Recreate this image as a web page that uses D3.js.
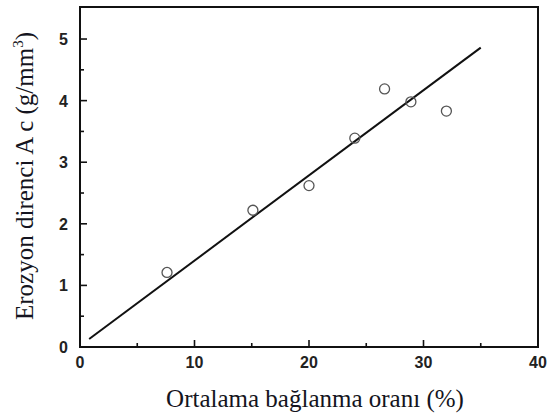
<!DOCTYPE html>
<html><head><meta charset="utf-8">
<script src="https://cdn.jsdelivr.net/npm/d3@7"></script>
<style>body{margin:0;background:#fff}svg{display:block}</style>
</head><body>
<svg id="c" width="547" height="414"></svg>
<script>
const pointX = [7.6, 15.1, 20.0, 24.0, 26.6, 28.9, 32.0];
const pointY = [1.21, 2.22, 2.62, 3.39, 4.19, 3.98, 3.83];
const fitX = [0.8, 35.0];
const fitY = [0.13, 4.86];
const xTicks = [0, 10, 20, 30, 40];
const yTicks = [0, 1, 2, 3, 4, 5];
const xTitle = "Ortalama bağlanma oranı (%)";
const yTitleMain = "Erozyon direnci A c (g/mm";
const yTitleSup = "3";
const yTitleEnd = ")";

const svg = d3.select("#c");
const L = 80, R = 538, T = 7, B = 347;
const x = d3.scaleLinear().domain([0, 40]).range([L, R]);
const y = d3.scaleLinear().domain([0, 5.52]).range([B, T]);
const ink = "#111";

svg.append("rect").attr("x", L).attr("y", T).attr("width", R - L).attr("height", B - T)
  .attr("fill", "none").attr("stroke", ink).attr("stroke-width", 2);

const xMinor = d3.range(5, 40, 10);
const yMinor = d3.range(0.5, 5.5, 1);
const tg = svg.append("g").attr("stroke", ink).attr("stroke-width", 1.6);
xTicks.forEach(v => tg.append("line").attr("x1", x(v)).attr("x2", x(v)).attr("y1", B).attr("y2", B - 7));
xMinor.forEach(v => tg.append("line").attr("x1", x(v)).attr("x2", x(v)).attr("y1", B).attr("y2", B - 4));
yTicks.forEach(v => tg.append("line").attr("x1", L).attr("x2", L + 7).attr("y1", y(v)).attr("y2", y(v)));
yMinor.forEach(v => tg.append("line").attr("x1", L).attr("x2", L + 4).attr("y1", y(v)).attr("y2", y(v)));

const lblFont = "'Liberation Sans', Arial, sans-serif";
svg.append("g").selectAll("text").data(xTicks).join("text")
  .attr("x", d => x(d)).attr("y", B + 21).attr("text-anchor", "middle")
  .attr("font-family", lblFont).attr("font-weight", "bold").attr("font-size", 16).attr("fill", "#222")
  .text(d => d);
svg.append("g").selectAll("text").data(yTicks).join("text")
  .attr("x", L - 12).attr("y", d => y(d) + 6).attr("text-anchor", "end")
  .attr("font-family", lblFont).attr("font-weight", "bold").attr("font-size", 16).attr("fill", "#222")
  .text(d => d);

const line = d3.line().x(d => x(d[0])).y(d => y(d[1]));
svg.append("path").datum(fitX.map((v, i) => [v, fitY[i]])).attr("d", line)
  .attr("fill", "none").attr("stroke", ink).attr("stroke-width", 2);

svg.append("g").selectAll("circle").data(pointX.map((v, i) => [v, pointY[i]])).join("circle")
  .attr("cx", d => x(d[0])).attr("cy", d => y(d[1])).attr("r", 5)
  .attr("fill", "none").attr("stroke", "#555").attr("stroke-width", 1.3);

const titleFont = "'Liberation Serif', 'Times New Roman', serif";
svg.append("text").attr("x", 315).attr("y", 407).attr("text-anchor", "middle")
  .attr("font-family", titleFont).attr("font-size", 25).attr("fill", "#141420").text(xTitle);
const yt = svg.append("text").attr("transform", "translate(33,176) rotate(-90)").attr("text-anchor", "middle")
  .attr("font-family", titleFont).attr("font-size", 25).attr("fill", "#141420");
yt.append("tspan").text(yTitleMain);
yt.append("tspan").attr("font-size", 15).attr("dy", -10).text(yTitleSup);
yt.append("tspan").attr("dy", 10).text(yTitleEnd);
</script>
</body></html>
